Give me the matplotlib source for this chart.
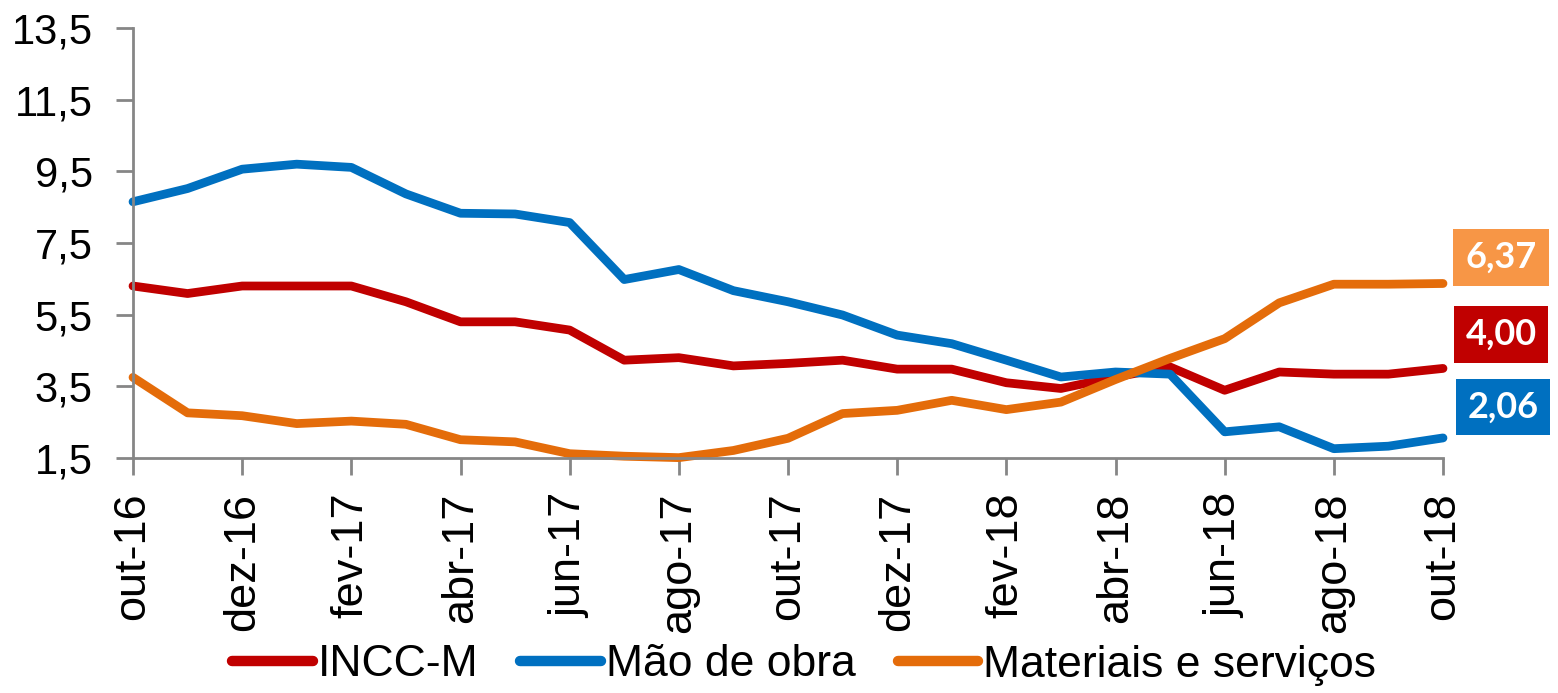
import matplotlib
matplotlib.use("Agg")
import matplotlib.pyplot as plt

months = ["out-16", "nov-16", "dez-16", "jan-17", "fev-17", "mar-17", "abr-17", "mai-17",
          "jun-17", "jul-17", "ago-17", "set-17", "out-17", "nov-17", "dez-17", "jan-18",
          "fev-18", "mar-18", "abr-18", "mai-18", "jun-18", "jul-18", "ago-18", "set-18", "out-18"]

incc_m = [6.30, 6.09, 6.30, 6.30, 6.30, 5.86, 5.30, 5.30, 5.07, 4.23, 4.30, 4.07, 4.14,
          4.23, 3.98, 3.98, 3.60, 3.44, 3.76, 4.04, 3.39, 3.90, 3.84, 3.84, 4.00]
mao_de_obra = [8.65, 9.02, 9.56, 9.70, 9.61, 8.87, 8.33, 8.31, 8.07, 6.48, 6.76, 6.17, 5.86,
               5.49, 4.93, 4.69, 4.23, 3.76, 3.90, 3.84, 2.23, 2.37, 1.76, 1.83, 2.06]
materiais = [3.75, 2.76, 2.68, 2.46, 2.53, 2.44, 2.01, 1.95, 1.62, 1.55, 1.51, 1.71, 2.05,
             2.74, 2.83, 3.11, 2.85, 3.06, 3.69, 4.28, 4.83, 5.83, 6.35, 6.35, 6.37]

series_names = ["INCC-M", "Mão de obra", "Materiais e serviços"]
line_colors = ["#C00000", "#0070C0", "#E46C0A"]
box_colors = ["#C00000", "#0070C0", "#F79646"]
end_labels = ["4,00", "2,06", "6,37"]

yticks = [1.5, 3.5, 5.5, 7.5, 9.5, 11.5, 13.5]
ytick_labels = ["1,5", "3,5", "5,5", "7,5", "9,5", "11,5", "13,5"]

plt.rcParams['font.family'] = ['Liberation Sans', 'DejaVu Sans']

fig = plt.figure(figsize=(15.58, 6.93), dpi=100)
ax = fig.add_axes([133/1558, 1-458/693, (1443-133)/1558, (458-28)/693])

x = list(range(len(months)))
all_series = [incc_m, mao_de_obra, materiais]
for vals, name, c in zip(all_series, series_names, line_colors):
    ax.plot(x, vals, color=c, lw=6.3, label=name, solid_capstyle='round',
            solid_joinstyle='round', clip_on=False)

ax.set_xlim(0, len(months)-1)
ax.set_ylim(1.5, 13.5)
ax.set_yticks(yticks)
ax.set_yticklabels(ytick_labels)
ax.set_xticks(x[::2])
ax.set_xticklabels(months[::2], rotation=90)

for s in ["top", "right"]:
    ax.spines[s].set_visible(False)
for s in ["left", "bottom"]:
    ax.spines[s].set_color("#868686")
    ax.spines[s].set_linewidth(2)
ax.tick_params(axis='both', colors="#868686", length=12, width=2, labelcolor='black')
ax.tick_params(axis='y', pad=17, labelsize=30)
ax.tick_params(axis='x', pad=13, labelsize=32.5)

# end value labels (offsets in pixels relative to the last point)
offsets = {"INCC-M": (58, 34), "Mão de obra": (60, 31), "Materiais e serviços": (58, 26)}
for vals, name, bc, lab in zip(all_series, series_names, box_colors, end_labels):
    dx, dy = offsets[name]
    ax.annotate(lab, xy=(x[-1], vals[-1]), xytext=(dx, dy), textcoords='offset pixels',
                ha='center', va='center', color='white', fontsize=26, fontweight='bold',
                family=['Lato', 'DejaVu Sans'], annotation_clip=False,
                bbox=dict(boxstyle='square,pad=0.33', fc=bc, ec='none'))

leg = fig.legend(loc='center', bbox_to_anchor=(804/1558, 1-665/693), ncol=3, frameon=False,
                 fontsize=32, handlelength=1.82, handletextpad=0.1, columnspacing=0.95,
                 borderaxespad=0)
for h in leg.get_lines():
    h.set_linewidth(7.5)
    h.set_solid_capstyle('round')

fig.savefig("out.png", dpi=100)
